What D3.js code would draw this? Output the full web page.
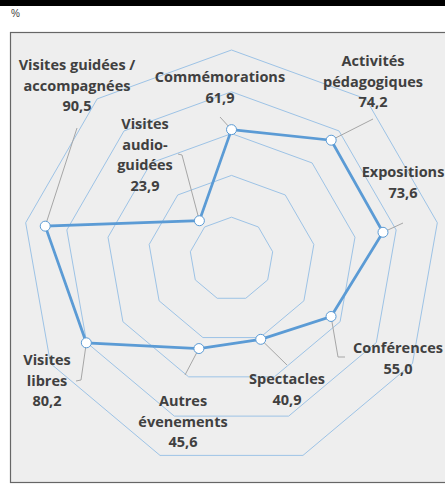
<!DOCTYPE html>
<html lang="fr">
<head>
    <meta charset="utf-8">
    <title>Radar</title>
    <script src="https://d3js.org/d3.v7.min.js"></script>
    <style>
        body { margin: 0; background: #fff; }
        text { font-family: "Open Sans", Lato, sans-serif; }
    </style>
</head>
<body>

<script>
    // categories in clockwise order starting from the top
    const categories = ["Commémorations", "Activités pédagogiques", "Expositions", "Conférences",
        "Spectacles", "Autres évenements", "Visites libres", "Visites guidées / accompagnées",
        "Visites audio-guidées"];
    const values = [61.9, 74.2, 73.6, 55.0, 40.9, 45.6, 80.2, 90.5, 23.9];
    const ringTicks = [20, 40, 60, 80, 100];

    // label lines, label anchor (centre x, first baseline y) and leader line elbows
    const labelLines = [
        ["Commémorations"], ["Activités", "pédagogiques"], ["Expositions"], ["Conférences"],
        ["Spectacles"], ["Autres", "évenements"], ["Visites", "libres"], ["Visites guidées /", "accompagnées"],
        ["Visites", "audio-", "guidées"]
    ];
    const labelPos = [[220, 82], [373, 66], [403, 177], [398, 353], [287, 384], [183, 406], [47, 365], [77, 70], [145, 129]];
    const leaders = [
        [[220, 117]], [[373, 119]], [[403, 223]], [[338, 357], [345, 357]], [[287, 365]],
        [[185, 375]], [[81, 380], [76, 381]], [[77, 128]], [[182, 155], [178, 154]]
    ];

    const W = 445, H = 485;
    const cx = 231.5, cy = 259;

    const svg = d3.select("body").append("svg").attr("width", W).attr("height", H);

    // cut title bar and frame
    svg.append("rect").attr("x", 0).attr("y", 0).attr("width", W).attr("height", 6).attr("fill", "#000");
    svg.append("text").attr("x", 11).attr("y", 17).attr("font-size", 10).attr("fill", "#404040")
        .style("font-family", "Liberation Sans, sans-serif").text("%");
    svg.append("rect").attr("x", 10.5).attr("y", 32.5).attr("width", W).attr("height", 450)
        .attr("fill", "#eeeeee").attr("stroke", "#666").attr("stroke-width", 1.2);

    const r = d3.scaleLinear().domain([0, 100]).range([0, 209]);
    const angle = d3.scalePoint().domain(d3.range(categories.length + 1)).range([0, 2 * Math.PI]);
    const pt = (i, v) => [cx + r(v) * Math.sin(angle(i)), cy - r(v) * Math.cos(angle(i))];

    const g = svg.append("g");

    // grid rings
    g.selectAll(".ring").data(ringTicks).enter().append("polygon")
        .attr("points", t => categories.map((c, i) => pt(i, t).join(",")).join(" "))
        .attr("fill", "none").attr("stroke", "#9dc3e6").attr("stroke-width", 1);

    // leader lines
    g.selectAll(".leader").data(values).enter().append("polyline")
        .attr("points", (v, i) => [pt(i, v)].concat(leaders[i]).map(p => p.join(",")).join(" "))
        .attr("fill", "none").attr("stroke", "#a6a6a6").attr("stroke-width", 1);

    // series line
    g.append("path")
        .datum(values)
        .attr("d", d3.line().x((v, i) => pt(i, v)[0]).y((v, i) => pt(i, v)[1]).curve(d3.curveLinearClosed))
        .attr("fill", "none").attr("stroke", "#5b9bd5").attr("stroke-width", 2.75);

    g.selectAll(".marker").data(values).enter().append("circle")
        .attr("cx", (v, i) => pt(i, v)[0]).attr("cy", (v, i) => pt(i, v)[1])
        .attr("r", 5).attr("fill", "#fff").attr("stroke", "#5b9bd5").attr("stroke-width", 1);

    // labels
    const lab = g.selectAll(".label").data(values).enter().append("text")
        .attr("text-anchor", "middle").attr("font-size", 14.5).attr("font-weight", "bold").attr("fill", "#404040");
    lab.each(function (v, i) {
        const t = d3.select(this);
        const lines = labelLines[i].concat([d3.format(".1f")(v).replace(".", ",")]);
        lines.forEach((s, k) => {
            t.append("tspan").attr("x", labelPos[i][0]).attr("y", labelPos[i][1] + k * 20.7).text(s);
        });
    });
</script>

</body>
</html>
